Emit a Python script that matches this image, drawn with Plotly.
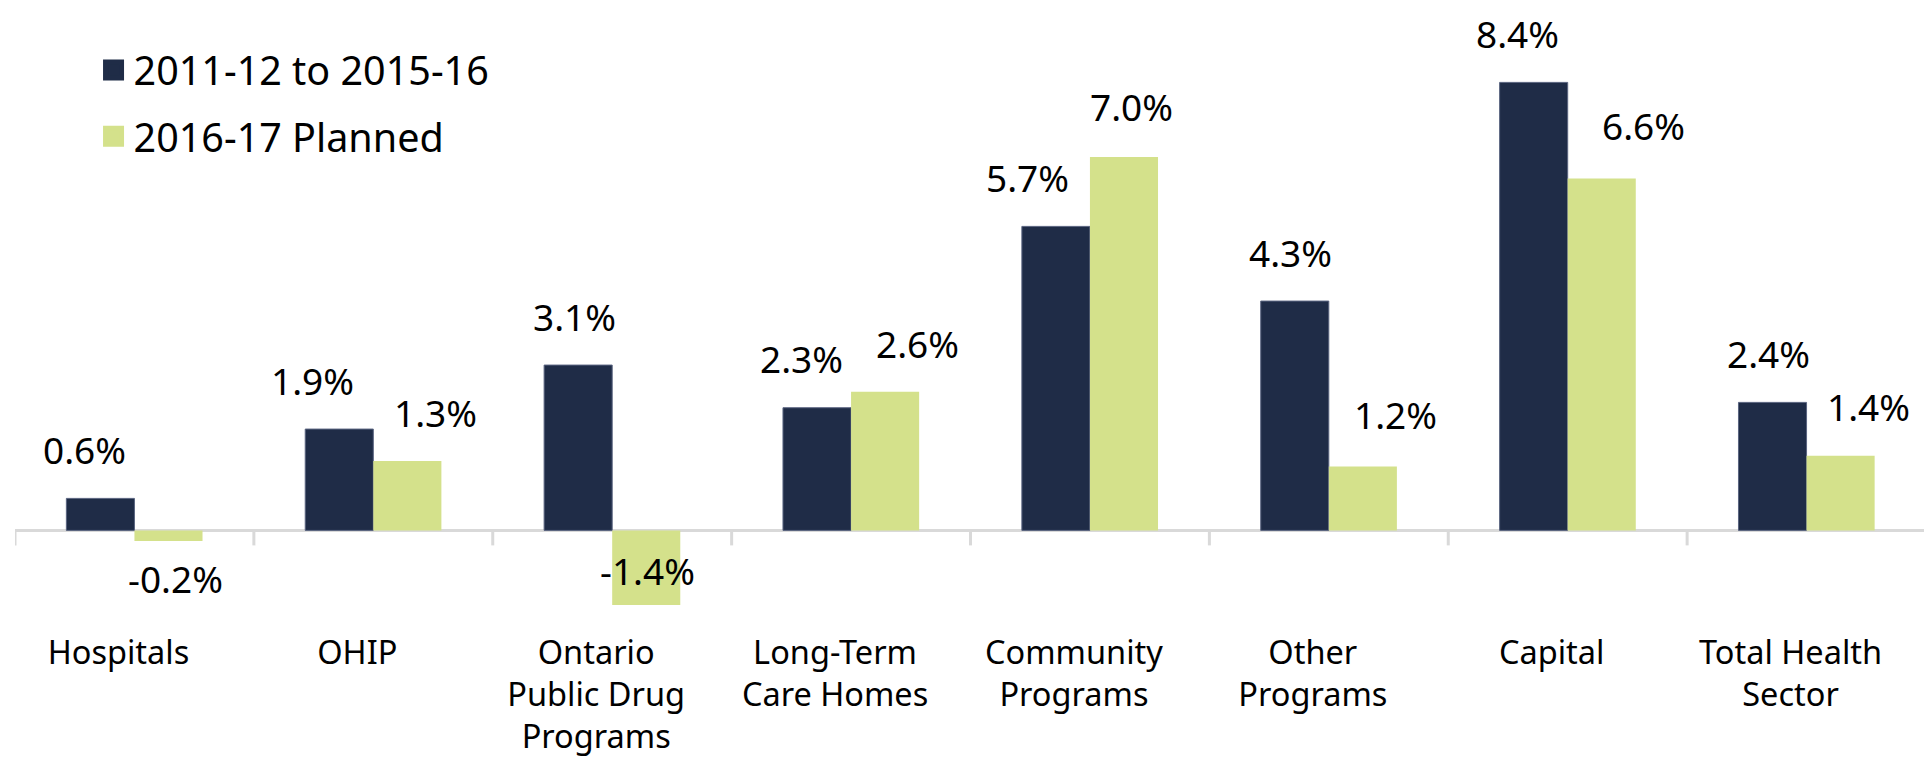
import plotly.graph_objects as go

categories = ["Hospitals", "OHIP", "Ontario<br>Public Drug<br>Programs", "Long-Term<br>Care Homes",
              "Community<br>Programs", "Other<br>Programs", "Capital", "Total Health<br>Sector"]
series_names = ["2011-12 to 2015-16", "2016-17 Planned"]
hist_values = [0.6, 1.9, 3.1, 2.3, 5.7, 4.3, 8.4, 2.4]
plan_values = [-0.2, 1.3, -1.4, 2.6, 7.0, 1.2, 6.6, 1.4]

# label nudges (pixels) relative to bar end
hist_dx = [-16, -27, -4, -16, -28, -4, -16, -4]
hist_dy = [49, 49, 49, 49, 49, 49, 49, 49]
plan_dx = [7, 28, 1, 32, 8, 33, 42, 28]
plan_dy = [-37, 49, 35, 48, 51, 52, 53, 49]

DARK = "#1F2C47"
DARK_EDGE = "#5A6480"
LIGHT = "#D4E18B"
AXIS = "#D9D9D9"
FONT = "Noto Sans"
BARGAP = 0.43

idx = list(range(len(categories)))
fig = go.Figure()
fig.add_trace(go.Bar(x=idx, y=hist_values, marker=dict(color=DARK, line=dict(width=1, color=DARK_EDGE)),
                     name=series_names[0], showlegend=False))
fig.add_trace(go.Bar(x=idx, y=plan_values, marker=dict(color=LIGHT, line=dict(width=0)),
                     name=series_names[1], showlegend=False))
# legend proxies with large square symbols
for nm, col, grp in [(series_names[0], DARK, "a"), (series_names[1], LIGHT, "b")]:
    fig.add_trace(go.Scatter(x=[None], y=[None], mode="markers", name=nm, legendgroup=grp,
                             marker=dict(symbol="square", size=26, color=col,
                                         line=dict(color=col, width=5))))

off = (1 - BARGAP) / 4
annotations = []
for vals, dxs, dys, sign in [(hist_values, hist_dx, hist_dy, -1), (plan_values, plan_dx, plan_dy, 1)]:
    for i, v in enumerate(vals):
        annotations.append(dict(x=i + sign * off, y=v, xref="x", yref="y", text=f"{v:.1f}%",
                                showarrow=False, xanchor="center", yanchor="middle",
                                xshift=dxs[i], yshift=dys[i],
                                font=dict(family=FONT, size=37, color="black")))

shapes = []
for k in range(len(categories) + 1):
    shapes.append(dict(type="line", xref="x", yref="y", x0=k - 0.5, x1=k - 0.5,
                       ysizemode="pixel", yanchor=0, y0=0, y1=-15,
                       line=dict(color=AXIS, width=3)))

fig.update_layout(
    width=1924, height=756,
    margin=dict(l=7, r=6, t=12, b=150),
    paper_bgcolor="white", plot_bgcolor="white",
    barmode="group", bargap=BARGAP, bargroupgap=0,
    font=dict(family=FONT, color="black"),
    showlegend=True,
    legend=dict(x=0.0411, y=0.970, xanchor="left", yanchor="top",
                font=dict(family=FONT, size=39.5, color="black"),
                bgcolor="rgba(0,0,0,0)", tracegroupgap=12, traceorder="grouped",
                itemwidth=30),
    annotations=annotations,
    shapes=shapes,
)
fig.update_xaxes(range=[-0.5, len(categories) - 0.5], tickmode="array", tickvals=idx,
                 ticktext=categories, showgrid=False, showline=False, ticks="",
                 zeroline=False, ticklabelstandoff=18, ticklabelshift=-16,
                 tickfont=dict(family=FONT, size=32.5, color="black"))
fig.update_yaxes(range=[-1.53, 9.57], showgrid=False, showticklabels=False, showline=False,
                 zeroline=True, zerolinecolor=AXIS, zerolinewidth=3)

fig.write_html("out.html")
